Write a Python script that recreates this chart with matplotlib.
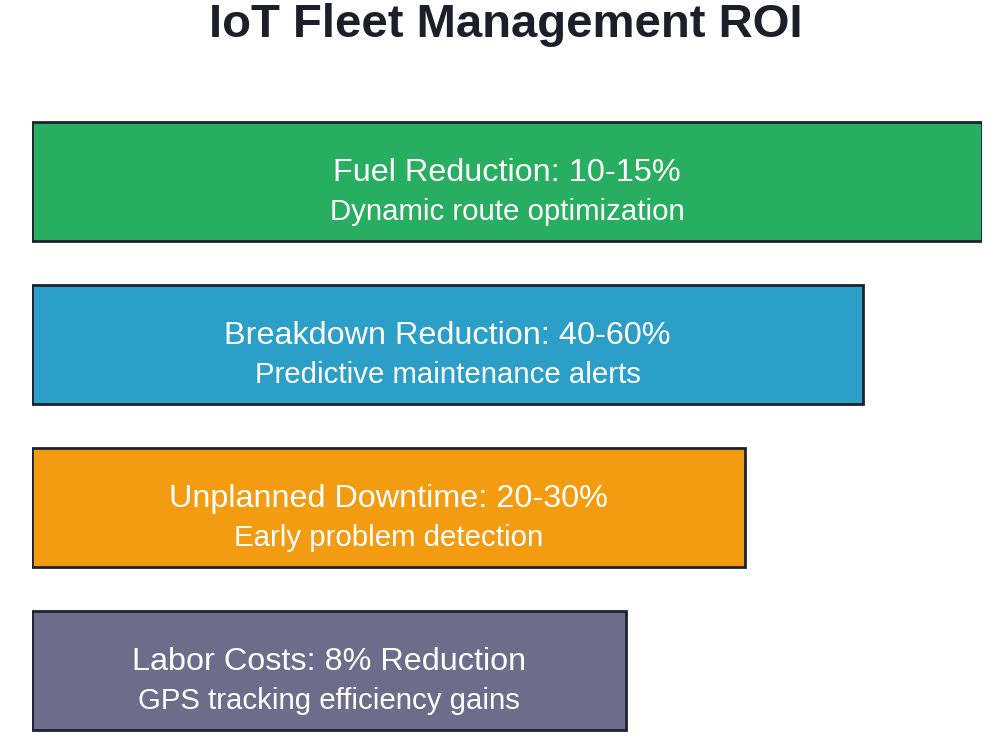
import matplotlib.pyplot as plt

# --- data ---
titles = ['Fuel Reduction: 10-15%', 'Breakdown Reduction: 40-60%',
          'Unplanned Downtime: 20-30%', 'Labor Costs: 8% Reduction']
subtitles = ['Dynamic route optimization', 'Predictive maintenance alerts',
             'Early problem detection', 'GPS tracking efficiency gains']
widths = [100, 87.5, 75, 62.5]
colors = ['#27ae60', '#2c9fc9', '#f39c12', '#6b6d8a']

fig = plt.figure(figsize=(10.05, 7.44), dpi=100)
ax = fig.add_axes([32 / 1005, 0, 950 / 1005, 1])

pos = list(range(len(widths)))
ax.barh(pos, widths, height=119 / 163, color=colors,
        edgecolor='#1e2130', linewidth=2)

for i, w in enumerate(widths):
    ax.text(w / 2, i - 0.05, titles[i], ha='center', va='center',
            color='white', fontsize=23.3, family='Liberation Sans')
    ax.text(w / 2, i + 0.185, subtitles[i], ha='center', va='center',
            color='white', fontsize=21.2, family='Liberation Sans')

ax.set_xlim(0, 100)
ax.set_ylim((744 - 181.5) / 163, -181.5 / 163)
ax.axis('off')

fig.text(506 / 1005, 1 - 37 / 744, 'IoT Fleet Management ROI', ha='center', va='baseline',
         fontsize=34, fontweight='bold', color='#1e1e2a', family='Liberation Sans')

fig.savefig('out.png', dpi=100)
